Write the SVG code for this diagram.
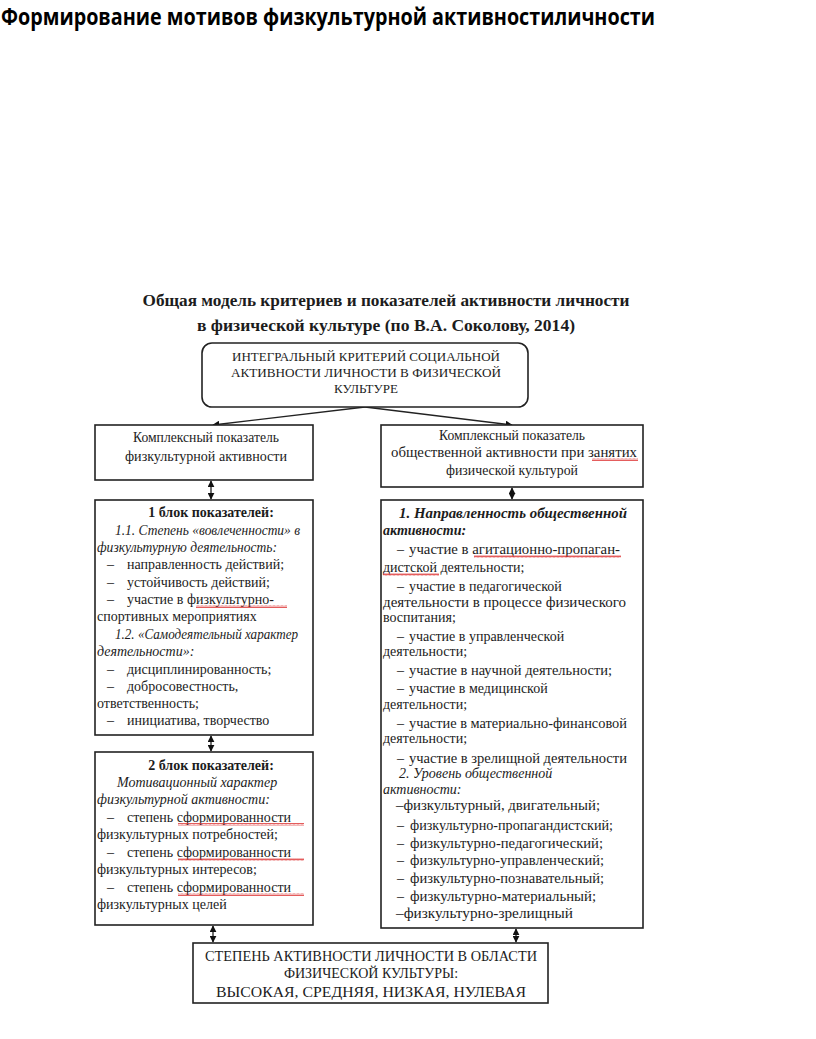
<svg xmlns="http://www.w3.org/2000/svg" width="816" height="1039" viewBox="0 0 816 1039">
<defs>
<style>
.t{font-family:"Liberation Serif","Times New Roman",serif;font-size:14px;fill:#1c1c1c}
.c{text-anchor:middle}
.i{font-style:italic}
.b{font-weight:bold}
.box{fill:#fff;stroke:#222;stroke-width:1.6}
.ln{stroke:#222;stroke-width:1.3;fill:none}
.wave{fill:url(#wv)}
</style>
<marker id="ah" viewBox="0 0 10 10" refX="9" refY="5" markerWidth="7" markerHeight="7" markerUnits="userSpaceOnUse" orient="auto-start-reverse">
<path d="M0,0 L10,5 L0,10 z" fill="#111"/>
</marker>
<pattern id="wv" width="4" height="3" patternUnits="userSpaceOnUse">
<path d="M0,2.5 L1,0.5 L2,2.5 L3,0.5 L4,2.5" stroke="#d33" stroke-width="0.8" fill="none"/>
</pattern>
</defs>
<rect width="816" height="1039" fill="#fff"/>
<text x="1" y="25" font-family="'Open Sans','Liberation Sans',sans-serif" font-weight="bold" font-size="23" fill="#000" textLength="654" lengthAdjust="spacingAndGlyphs">Формирование мотивов физкультурной активностиличности</text>
<g id="heading">
<text class="t b c" x="386" y="306" style="font-size:17px" textLength="487" lengthAdjust="spacingAndGlyphs">Общая модель критериев и показателей активности личности</text>
<text class="t b c" x="386" y="331" style="font-size:17px" textLength="378" lengthAdjust="spacingAndGlyphs">в физической культуре (по В.А. Соколову, 2014)</text>
</g>
<g id="connectors">
<line class="ln" x1="365" y1="407" x2="213" y2="425" marker-end="url(#ah)"/>
<line class="ln" x1="365" y1="407" x2="512" y2="425" marker-end="url(#ah)"/>
<line class="ln" x1="211" y1="481" x2="211" y2="499" marker-start="url(#ah)" marker-end="url(#ah)"/>
<line class="ln" x1="512" y1="488" x2="512" y2="499" marker-start="url(#ah)" marker-end="url(#ah)"/>
<line class="ln" x1="211" y1="736" x2="211" y2="751" marker-start="url(#ah)" marker-end="url(#ah)"/>
<line class="ln" x1="213" y1="926" x2="213" y2="942" marker-start="url(#ah)" marker-end="url(#ah)"/>
<line class="ln" x1="516" y1="929" x2="516" y2="942" marker-start="url(#ah)" marker-end="url(#ah)"/>
</g>
<g id="integral">
<rect class="box" x="202" y="343" width="326" height="64" rx="10"/>
<text class="t c" x="366" y="361" style="font-size:13px" textLength="268" lengthAdjust="spacingAndGlyphs">ИНТЕГРАЛЬНЫЙ КРИТЕРИЙ СОЦИАЛЬНОЙ</text>
<text class="t c" x="366" y="377" style="font-size:13px" textLength="270" lengthAdjust="spacingAndGlyphs">АКТИВНОСТИ ЛИЧНОСТИ В ФИЗИЧЕСКОЙ</text>
<text class="t c" x="366" y="393" style="font-size:13px">КУЛЬТУРЕ</text>
</g>
<g id="complex-left">
<rect class="box" x="95" y="425" width="218" height="55"/>
<text class="t c" x="206" y="442" textLength="146" lengthAdjust="spacingAndGlyphs">Комплексный показатель</text>
<text class="t c" x="206" y="461" textLength="162" lengthAdjust="spacingAndGlyphs">физкультурной активности</text>
</g>
<g id="complex-right">
<rect class="box" x="381" y="425" width="262" height="62"/>
<text class="t c" x="512" y="440" textLength="146" lengthAdjust="spacingAndGlyphs">Комплексный показатель</text>
<text class="t c" x="514" y="457" textLength="246" lengthAdjust="spacingAndGlyphs">общественной активности при занятих</text>
<text class="t c" x="512" y="475" textLength="132" lengthAdjust="spacingAndGlyphs">физической культурой</text>
<rect class="wave" x="592" y="458" width="46" height="3"/>
</g>
<g id="block1">
<rect class="box" x="95" y="500" width="218" height="235"/>
<text class="t b c" x="211" y="517">1 блок показателей:</text>
<text class="t i" x="115" y="535" textLength="185" lengthAdjust="spacingAndGlyphs">1.1. Степень «вовлеченности» в</text>
<text class="t i" x="97" y="552" textLength="180" lengthAdjust="spacingAndGlyphs">физкультурную деятельность:</text>
<text class="t" x="107" y="569">–</text><text class="t" x="127" y="569">направленность действий;</text>
<text class="t" x="107" y="587">–</text><text class="t" x="127" y="587">устойчивость действий;</text>
<text class="t" x="107" y="604">–</text><text class="t" x="127" y="604">участие в физкультурно-</text>
<rect class="wave" x="196" y="605" width="91" height="3"/>
<text class="t" x="97" y="621">спортивных мероприятиях</text>
<text class="t i" x="115" y="639" textLength="183" lengthAdjust="spacingAndGlyphs">1.2. «Самодеятельный характер</text>
<text class="t i" x="97" y="656">деятельности»:</text>
<text class="t" x="107" y="674">–</text><text class="t" x="127" y="674">дисциплинированность;</text>
<text class="t" x="107" y="691">–</text><text class="t" x="127" y="691">добросовестность,</text>
<text class="t" x="97" y="708">ответственность;</text>
<text class="t" x="107" y="725">–</text><text class="t" x="127" y="725">инициатива, творчество</text>
</g>
<g id="block2">
<rect class="box" x="95" y="752" width="218" height="173"/>
<text class="t b c" x="211" y="770">2 блок показателей:</text>
<text class="t i" x="117" y="787">Мотивационный характер</text>
<text class="t i" x="97" y="804">физкультурной активности:</text>
<text class="t" x="107" y="822">–</text><text class="t" x="127" y="822">степень сформированности</text>
<rect class="wave" x="178" y="823" width="126" height="3"/>
<text class="t" x="97" y="839">физкультурных потребностей;</text>
<text class="t" x="107" y="857">–</text><text class="t" x="127" y="857">степень сформированности</text>
<rect class="wave" x="178" y="858" width="126" height="3"/>
<text class="t" x="97" y="874">физкультурных интересов;</text>
<text class="t" x="107" y="892">–</text><text class="t" x="127" y="892">степень сформированности</text>
<rect class="wave" x="178" y="893" width="126" height="3"/>
<text class="t" x="97" y="909">физкультурных целей</text>
</g>
<g id="block-right">
<rect class="box" x="381" y="500" width="262" height="428"/>
<text class="t b i" x="399" y="518" textLength="228" lengthAdjust="spacingAndGlyphs">1. Направленность общественной</text>
<text class="t b i" x="383" y="535">активности:</text>
<text class="t" x="397" y="554">–</text><text class="t" x="409" y="554" textLength="211" lengthAdjust="spacingAndGlyphs">участие в агитационно-пропаган-</text>
<rect class="wave" x="474" y="555" width="147" height="3"/>
<text class="t" x="383" y="572">дистской деятельности;</text>
<rect class="wave" x="383" y="573" width="56" height="3"/>
<text class="t" x="397" y="591">–</text><text class="t" x="409" y="591">участие в педагогической</text>
<text class="t" x="383" y="607" textLength="243" lengthAdjust="spacingAndGlyphs">деятельности в процессе физического</text>
<text class="t" x="383" y="622">воспитания;</text>
<text class="t" x="397" y="641">–</text><text class="t" x="409" y="641">участие в управленческой</text>
<text class="t" x="383" y="656">деятельности;</text>
<text class="t" x="397" y="675">–</text><text class="t" x="409" y="675" textLength="203" lengthAdjust="spacingAndGlyphs">участие в научной деятельности;</text>
<text class="t" x="397" y="693">–</text><text class="t" x="409" y="693">участие в медицинской</text>
<text class="t" x="383" y="709">деятельности;</text>
<text class="t" x="397" y="728">–</text><text class="t" x="409" y="728" textLength="218" lengthAdjust="spacingAndGlyphs">участие в материально-финансовой</text>
<text class="t" x="383" y="743">деятельности;</text>
<text class="t" x="397" y="763">–</text><text class="t" x="409" y="763" textLength="218" lengthAdjust="spacingAndGlyphs">участие в зрелищной деятельности</text>
<text class="t i" x="399" y="778">2. Уровень общественной</text>
<text class="t i" x="383" y="794">активности:</text>
<text class="t" x="396" y="810" textLength="204" lengthAdjust="spacingAndGlyphs">–физкультурный, двигательный;</text>
<text class="t" x="397" y="830">–</text><text class="t" x="410" y="830" textLength="203" lengthAdjust="spacingAndGlyphs">физкультурно-пропагандистский;</text>
<text class="t" x="397" y="848">–</text><text class="t" x="410" y="848" textLength="193" lengthAdjust="spacingAndGlyphs">физкультурно-педагогический;</text>
<text class="t" x="397" y="865">–</text><text class="t" x="410" y="865" textLength="194" lengthAdjust="spacingAndGlyphs">физкультурно-управленческий;</text>
<text class="t" x="397" y="883">–</text><text class="t" x="410" y="883" textLength="194" lengthAdjust="spacingAndGlyphs">физкультурно-познавательный;</text>
<text class="t" x="397" y="901">–</text><text class="t" x="410" y="901" textLength="186" lengthAdjust="spacingAndGlyphs">физкультурно-материальный;</text>
<text class="t" x="396" y="918" textLength="177" lengthAdjust="spacingAndGlyphs">–физкультурно-зрелищный</text>
</g>
<g id="result">
<rect class="box" x="193" y="943" width="355" height="60"/>
<text class="t c" x="371" y="961" textLength="332" lengthAdjust="spacingAndGlyphs">СТЕПЕНЬ АКТИВНОСТИ ЛИЧНОСТИ В ОБЛАСТИ</text>
<text class="t c" x="371" y="978">ФИЗИЧЕСКОЙ КУЛЬТУРЫ:</text>
<text class="t c" x="371" y="997" textLength="310" lengthAdjust="spacingAndGlyphs">ВЫСОКАЯ, СРЕДНЯЯ, НИЗКАЯ, НУЛЕВАЯ</text>
</g>
</svg>
